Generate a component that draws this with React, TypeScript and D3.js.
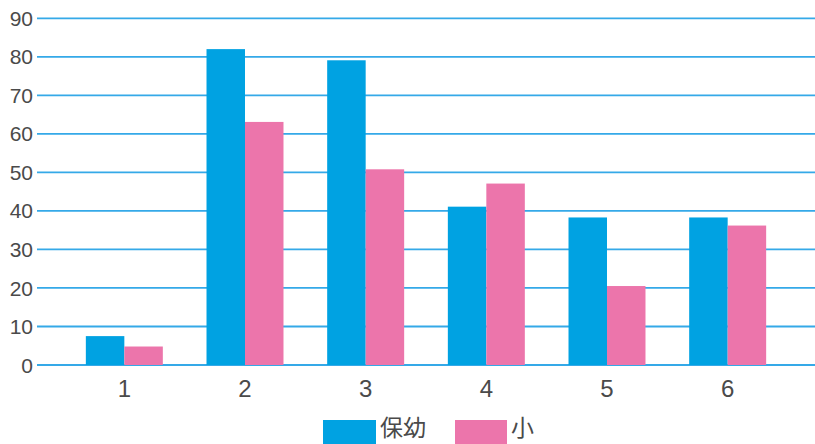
import React from "react";
import * as d3 from "d3";

const categories = ["1", "2", "3", "4", "5", "6"];
const seriesNames = ["保幼", "小"];
const hoyoValues = [7.5, 82.0, 79.1, 41.1, 38.3, 38.3];
const shoValues = [4.8, 63.1, 50.8, 47.1, 20.5, 36.2];
const yTicks = [0, 10, 20, 30, 40, 50, 60, 70, 80, 90];
const colors = ["#00a2e2", "#ec75ab"];

const W = 815;
const H = 444;

export default function App() {
  const y = d3.scaleLinear().domain([0, 90]).range([365, 18.3]);
  const x = d3
    .scaleBand<string>()
    .domain(categories)
    .range([64, 788])
    .paddingInner(0.362)
    .paddingOuter(0.181);
  const x1 = d3.scaleBand<string>().domain(seriesNames).range([0, x.bandwidth()]);
  const series = [hoyoValues, shoValues];
  const font = "'Liberation Sans', 'DejaVu Sans', sans-serif";

  return (
    <svg
      width={W}
      height={H}
      style={{ position: "absolute", left: 0, top: 0, background: "#fff" }}
    >
      {yTicks.map((t) => (
        <g key={t}>
          <line x1={37} x2={W} y1={y(t)} y2={y(t)} stroke="#35a9e8" strokeWidth={1.8} />
          <text
            x={33}
            y={y(t)}
            dy="0.36em"
            textAnchor="end"
            fontFamily={font}
            fontSize={21}
            fill="#4a4a4a"
          >
            {t}
          </text>
        </g>
      ))}
      {categories.map((c, i) => (
        <g key={c} transform={`translate(${x(c)},0)`}>
          {series.map((vals, s) => (
            <rect
              key={s}
              x={x1(seriesNames[s])}
              y={y(vals[i])}
              width={x1.bandwidth()}
              height={y(0) - y(vals[i])}
              fill={colors[s]}
            />
          ))}
          <text
            x={x.bandwidth() / 2}
            y={397}
            textAnchor="middle"
            fontFamily={font}
            fontSize={24}
            fill="#4a4a4a"
          >
            {c}
          </text>
        </g>
      ))}
      <g>
        <rect x={323} y={420} width={53} height={24} fill={colors[0]} />
        <text x={380} y={436} fontFamily="'Noto Sans CJK JP', sans-serif" fontSize={23} fill="#4a4a4a">
          {seriesNames[0]}
        </text>
        <rect x={455} y={420} width={52} height={24} fill={colors[1]} />
        <text x={511} y={436} fontFamily="'Noto Sans CJK JP', sans-serif" fontSize={23} fill="#4a4a4a">
          {seriesNames[1]}
        </text>
      </g>
    </svg>
  );
}
